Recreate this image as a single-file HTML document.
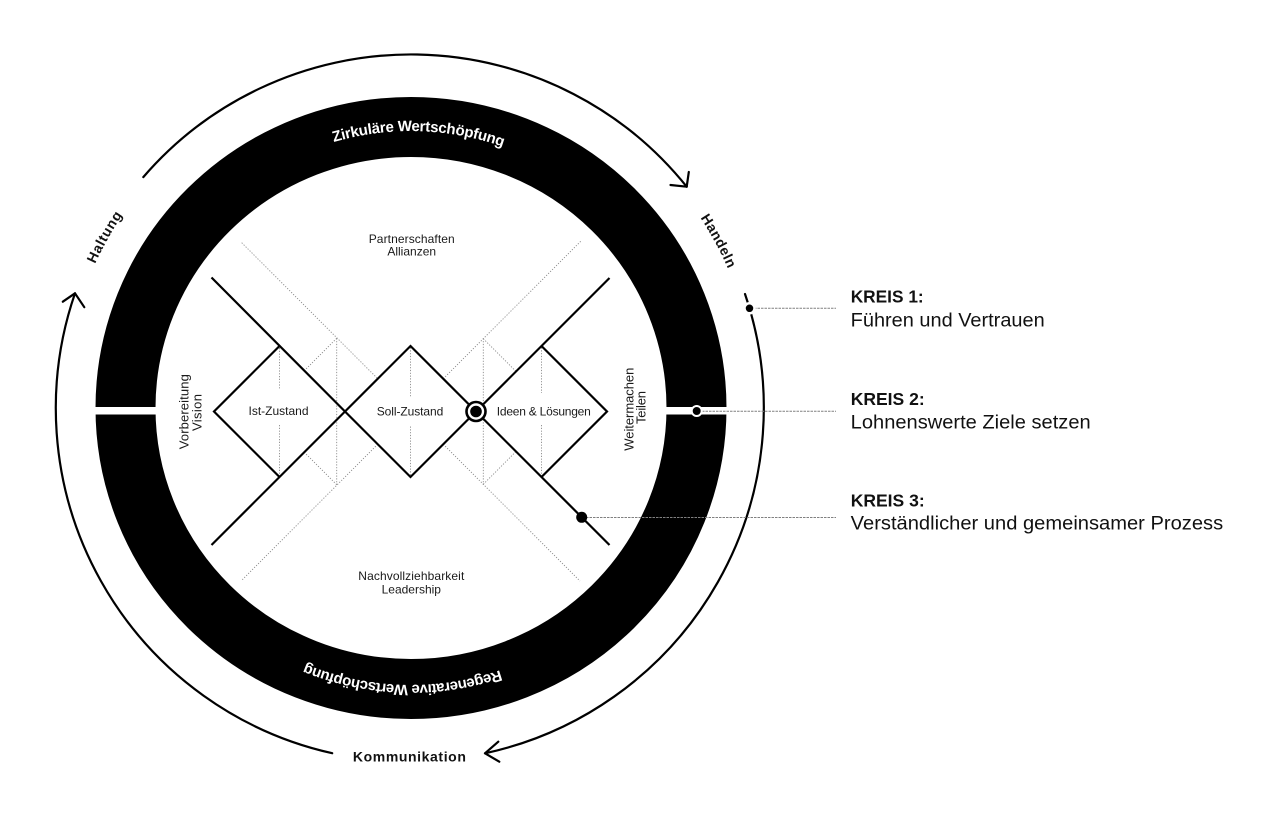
<!DOCTYPE html>
<html>
<head>
<meta charset="utf-8">
<style>
  html,body{margin:0;padding:0;background:#fff;}
  svg{display:block;}
  .lbl{font-family:"Liberation Sans",sans-serif;font-size:12px;fill:#1a1a1a;}
  .vl{font-family:"Liberation Sans",sans-serif;font-size:13px;fill:#1a1a1a;}
  .ring{font-family:"Liberation Sans",sans-serif;font-size:15px;font-weight:bold;fill:#fff;}
  .out{font-family:"Liberation Sans",sans-serif;font-size:14px;font-weight:bold;fill:#111;}
  .kh{font-family:"Liberation Sans",sans-serif;font-size:17.5px;font-weight:bold;fill:#111;}
  .kt{font-family:"Liberation Sans",sans-serif;font-size:19px;fill:#111;}
</style>
</head>
<body>
<svg width="1280" height="823" viewBox="0 0 1280 823" xmlns="http://www.w3.org/2000/svg">
  <defs>
    <path id="topRing" d="M 134 408 A 277 277 0 0 1 688 408"/>
    <path id="botRing" d="M 688 408 A 277 277 0 0 1 134 408"/>
    <path id="outerTop" d="M 63.5 408.5 A 347 347 0 0 1 757.5 408.5"/>
  </defs>
  <rect width="1280" height="823" fill="#fff"/>

  <!-- black ring -->
  <ellipse cx="411" cy="408" rx="285.5" ry="281" fill="none" stroke="#000" stroke-width="60"/>
  <!-- white gaps -->
  <rect x="88" y="407" width="72" height="7.5" fill="#fff"/>
  <rect x="660" y="407" width="75" height="7.5" fill="#fff"/>

  <!-- ring texts -->
  <text class="ring"><textPath href="#topRing" startOffset="442.5" text-anchor="middle" textLength="172" lengthAdjust="spacing">Zirkuläre Wertschöpfung</textPath></text>
  <text class="ring"><textPath href="#botRing" startOffset="443.7" text-anchor="middle" textLength="199" lengthAdjust="spacing">Regenerative Wertschöpfung</textPath></text>

  <!-- dotted guide lines -->
  <g stroke="#8a8a8a" stroke-width="0.9" stroke-dasharray="1.2 1.6" fill="none">
    <line x1="241.7" y1="242.7" x2="377.75" y2="378.75"/>
    <line x1="443.25" y1="444.25" x2="580" y2="581"/>
    <line x1="580.7" y1="241.3" x2="443.25" y2="378.75"/>
    <line x1="377.75" y1="444.25" x2="241.7" y2="580.3"/>
    <line x1="336.7" y1="338.3" x2="304.5" y2="370.5"/>
    <line x1="336.7" y1="484.7" x2="304.5" y2="452.5"/>
    <line x1="483.3" y1="338.7" x2="516" y2="371.4"/>
    <line x1="483.3" y1="484.3" x2="516" y2="451.5"/>
    <line x1="336.7" y1="338.3" x2="336.7" y2="484.7"/>
    <line x1="483.3" y1="338.3" x2="483.3" y2="484.7"/>
    <line x1="279.5" y1="348" x2="279.5" y2="388.5"/>
    <line x1="279.5" y1="425" x2="279.5" y2="475.5"/>
    <line x1="410.5" y1="347.5" x2="410.5" y2="396.5"/>
    <line x1="410.5" y1="426.5" x2="410.5" y2="475.5"/>
    <line x1="541.5" y1="347.5" x2="541.5" y2="393"/>
    <line x1="541.5" y1="425" x2="541.5" y2="475.5"/>
  </g>

  <!-- solid lines -->
  <g stroke="#000" stroke-width="2.2" fill="none" stroke-linejoin="miter">
    <polyline points="211.5,277.5 345,411.5 410.5,477 476,411.5 609.5,278"/>
    <polyline points="211.5,545 345,411.5 410.5,346 476,411.5 609.5,545"/>
    <polyline points="279.5,346 214,411.5 279.5,477"/>
    <polyline points="541.5,346 607,411.5 541.5,477"/>
  </g>

  <!-- center marker -->
  <circle cx="476" cy="411.5" r="9.5" fill="#fff" stroke="#000" stroke-width="2.6"/>
  <circle cx="476" cy="411.5" r="5.8" fill="#000"/>

  <!-- inner labels -->
  <text class="lbl" x="411.7" y="243" text-anchor="middle" textLength="86" lengthAdjust="spacing">Partnerschaften</text>
  <text class="lbl" x="411.7" y="255.5" text-anchor="middle">Allianzen</text>
  <text class="lbl" x="411.3" y="580" text-anchor="middle" textLength="106" lengthAdjust="spacing">Nachvollziehbarkeit</text>
  <text class="lbl" x="411.3" y="593.5" text-anchor="middle">Leadership</text>
  <text class="lbl" x="278.5" y="415" text-anchor="middle" textLength="60" lengthAdjust="spacing">Ist-Zustand</text>
  <text class="lbl" x="410" y="415.5" text-anchor="middle" textLength="66.5" lengthAdjust="spacing">Soll-Zustand</text>
  <text class="lbl" x="543.8" y="415.5" text-anchor="middle" textLength="94" lengthAdjust="spacing">Ideen &amp; Lösungen</text>
  <text class="vl" transform="translate(188.5,411.7) rotate(-90)" text-anchor="middle" textLength="75" lengthAdjust="spacing">Vorbereitung</text>
  <text class="vl" transform="translate(201.3,412.5) rotate(-90)" text-anchor="middle" textLength="37" lengthAdjust="spacing">Vision</text>
  <text class="vl" transform="translate(633.3,409.2) rotate(-90)" text-anchor="middle" textLength="83" lengthAdjust="spacing">Weitermachen</text>
  <text class="vl" transform="translate(645.3,407.5) rotate(-90)" text-anchor="middle" textLength="33" lengthAdjust="spacing">Teilen</text>

  <!-- outer arrows -->
  <g stroke="#000" stroke-width="2.2" fill="none" stroke-linecap="round" stroke-linejoin="round">
    <path d="M 143.3 177.1 A 353.5 353.5 0 0 1 686.7 186.7"/>
    <polyline points="670.5,185 686.7,186.7 688.8,172"/>
    <path d="M 332.2 753.2 A 353.5 353.5 0 0 1 75 293.3"/>
    <polyline points="62.8,301.7 75,293.3 84.3,307.2"/>
    <path d="M 745 294 A 353.5 353.5 0 0 1 485 753.3"/>
    <polyline points="498.3,741.7 485,753.3 499.3,761.7"/>
  </g>

  <!-- outer labels -->
  <text class="out"><textPath href="#outerTop" startOffset="177.1" text-anchor="middle" textLength="56" lengthAdjust="spacing">Haltung</textPath></text>
  <text class="out"><textPath href="#outerTop" startOffset="916.6" text-anchor="middle" textLength="58" lengthAdjust="spacing">Handeln</textPath></text>
  <text class="out" x="409.4" y="761.7" text-anchor="middle" textLength="113" lengthAdjust="spacing">Kommunikation</text>

  <!-- connectors -->
  <g stroke="#808080" stroke-width="1" stroke-dasharray="2.5 1" fill="none">
    <line x1="754" y1="308.3" x2="836" y2="308.3"/>
    <line x1="702" y1="411.3" x2="836" y2="411.3"/>
    <line x1="586" y1="517.5" x2="836" y2="517.5"/>
  </g>

  <!-- dots -->
  <circle cx="749.5" cy="308.3" r="5" fill="#000" stroke="#fff" stroke-width="2.5"/>
  <circle cx="696.7" cy="411" r="5" fill="#000" stroke="#fff" stroke-width="2"/>
  <circle cx="581.7" cy="517.3" r="5.5" fill="#000"/>

  <!-- legend -->
  <text class="kh" x="850.7" y="302.7" textLength="73" lengthAdjust="spacingAndGlyphs">KREIS 1:</text>
  <text class="kt" x="850.7" y="326.7" textLength="194" lengthAdjust="spacingAndGlyphs">Führen und Vertrauen</text>
  <text class="kh" x="850.7" y="405" textLength="74" lengthAdjust="spacingAndGlyphs">KREIS 2:</text>
  <text class="kt" x="850.7" y="428.3" textLength="240" lengthAdjust="spacingAndGlyphs">Lohnenswerte Ziele setzen</text>
  <text class="kh" x="850.7" y="506.7" textLength="74" lengthAdjust="spacingAndGlyphs">KREIS 3:</text>
  <text class="kt" x="850.7" y="529.5" textLength="372.5" lengthAdjust="spacingAndGlyphs">Verständlicher und gemeinsamer Prozess</text>
</svg>
</body>
</html>
